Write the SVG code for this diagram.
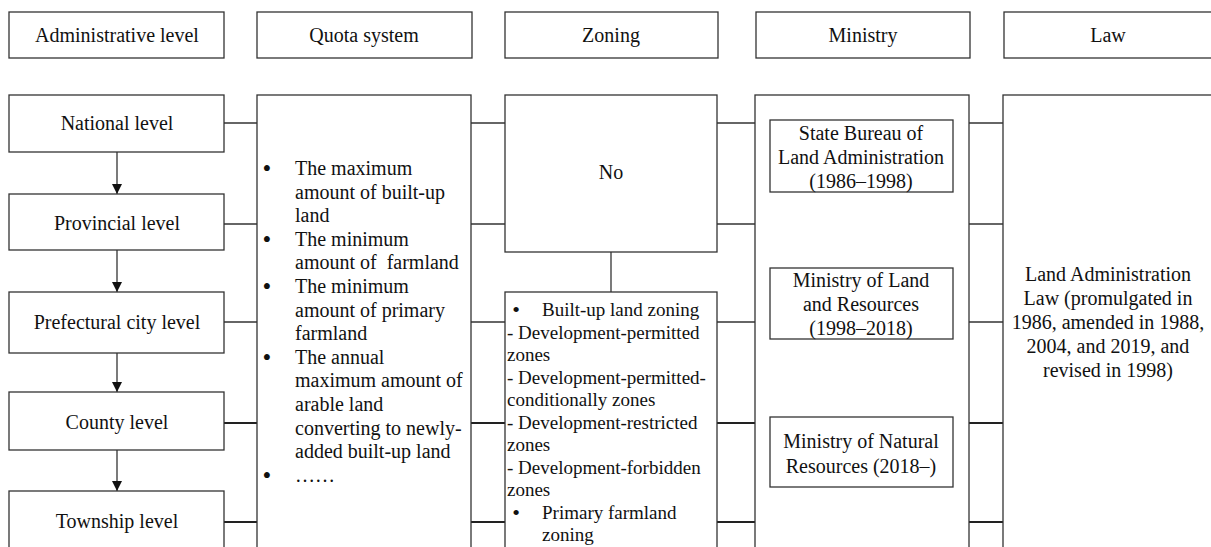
<svg xmlns="http://www.w3.org/2000/svg" width="1211" height="547" viewBox="0 0 1211 547">
<style>
.box{fill:#fff;stroke:#333;stroke-width:1.3}
.ln{stroke:#333;stroke-width:1.3;fill:none}
.lnb{stroke:#222;stroke-width:1.8;fill:none}
text{font-family:"Liberation Serif","Times New Roman",serif;fill:#111;font-size:20px}
.c{text-anchor:middle}
.z{font-size:19px}
.bul{font-size:25px;text-anchor:middle}
.bulz{font-size:22px;text-anchor:middle}
.pre{white-space:pre}
</style>
<defs>
<marker id="ah" viewBox="0 0 10 10" refX="10" refY="5" markerWidth="10" markerHeight="10" markerUnits="userSpaceOnUse" orient="auto">
<path d="M0,0 L10,5 L0,10 Z" fill="#111"/>
</marker>
</defs>
<g id="headers">
<g id="h-admin"><rect class="box" x="9" y="12" width="215" height="46"/><text class="c" x="117" y="42">Administrative level</text></g>
<g id="h-quota"><rect class="box" x="257" y="12" width="215" height="46"/><text class="c" x="364" y="42">Quota system</text></g>
<g id="h-zoning"><rect class="box" x="505" y="12" width="213" height="46"/><text class="c" x="611" y="42">Zoning</text></g>
<g id="h-ministry"><rect class="box" x="756" y="12" width="214" height="46"/><text class="c" x="863" y="42">Ministry</text></g>
<g id="h-law"><rect class="box" x="1004" y="12" width="215" height="46"/><text class="c" x="1108" y="42">Law</text></g>
</g>
<g id="connectors">
<line class="ln" x1="224" y1="123" x2="257" y2="123"/>
<line class="ln" x1="224" y1="224" x2="257" y2="224"/>
<line class="ln" x1="224" y1="322" x2="257" y2="322"/>
<line class="lnb" x1="224" y1="423" x2="257" y2="423"/>
<line class="lnb" x1="224" y1="522" x2="257" y2="522"/>
<line class="ln" x1="471" y1="123" x2="505" y2="123"/>
<line class="ln" x1="471" y1="224" x2="505" y2="224"/>
<line class="ln" x1="471" y1="322" x2="505" y2="322"/>
<line class="lnb" x1="471" y1="423" x2="505" y2="423"/>
<line class="lnb" x1="471" y1="522" x2="505" y2="522"/>
<line class="ln" x1="717" y1="123" x2="755" y2="123"/>
<line class="ln" x1="717" y1="224" x2="755" y2="224"/>
<line class="ln" x1="717" y1="322" x2="755" y2="322"/>
<line class="lnb" x1="717" y1="423" x2="755" y2="423"/>
<line class="lnb" x1="717" y1="522" x2="755" y2="522"/>
<line class="ln" x1="969" y1="123" x2="1003" y2="123"/>
<line class="ln" x1="969" y1="224" x2="1003" y2="224"/>
<line class="ln" x1="969" y1="322" x2="1003" y2="322"/>
<line class="lnb" x1="969" y1="423" x2="1003" y2="423"/>
<line class="lnb" x1="969" y1="522" x2="1003" y2="522"/>
<line class="ln" x1="117" y1="152" x2="117" y2="194" marker-end="url(#ah)"/>
<line class="ln" x1="117" y1="250" x2="117" y2="292" marker-end="url(#ah)"/>
<line class="ln" x1="117" y1="353" x2="117" y2="392" marker-end="url(#ah)"/>
<line class="ln" x1="117" y1="450" x2="117" y2="491" marker-end="url(#ah)"/>
<line class="ln" x1="611" y1="252" x2="611" y2="292"/>
<line class="ln" x1="861" y1="192" x2="861" y2="268" marker-end="url(#ah)"/>
<line class="ln" x1="861" y1="339" x2="861" y2="417" marker-end="url(#ah)"/>
<text x="946" y="239" text-anchor="end">Replace</text>
<text x="946" y="388" text-anchor="end">Replace</text>
</g>
<g id="national"><rect class="box" x="9" y="95" width="215" height="57"/><text class="c" x="117" y="130">National level</text></g>
<g id="provincial"><rect class="box" x="9" y="194" width="215" height="56"/><text class="c" x="117" y="230">Provincial level</text></g>
<g id="prefectural"><rect class="box" x="9" y="292" width="215" height="61"/><text class="c" x="117" y="329">Prefectural city level</text></g>
<g id="county"><rect class="box" x="9" y="392" width="215" height="58"/><text class="c" x="117" y="429">County level</text></g>
<g id="township"><rect class="box" x="9" y="491" width="215" height="70"/><text class="c" x="117" y="528">Township level</text></g>
<g id="quota">
<rect class="box" x="257" y="95" width="214" height="470"/>
<text class="bul" x="267" y="177">•</text><text class="bul" x="267" y="248">•</text><text class="bul" x="267" y="295">•</text><text class="bul" x="267" y="366">•</text><text class="bul" x="267" y="484">•</text>
<text x="295" y="175">The maximum</text>
<text x="295" y="198.6">amount of built-up</text>
<text x="295" y="222.2">land</text>
<text x="295" y="245.8">The minimum</text>
<text x="295" y="269.4" class="pre">amount of  farmland</text>
<text x="295" y="293">The minimum</text>
<text x="295" y="316.6">amount of primary</text>
<text x="295" y="340.2">farmland</text>
<text x="295" y="363.8">The annual</text>
<text x="295" y="387.4">maximum amount of</text>
<text x="295" y="411">arable land</text>
<text x="295" y="434.6">converting to newly-</text>
<text x="295" y="458.2">added built-up land</text>
<text x="295" y="481.8">……</text>
</g>
<g id="zoning-no"><rect class="box" x="505" y="95" width="212" height="157"/><text class="c" x="611" y="179">No</text></g>
<g id="zoning-yes">
<rect class="box" x="505" y="292" width="212" height="270"/>
<text class="bulz" x="516" y="317">•</text>
<text class="z" x="542" y="316">Built-up land zoning</text>
<text class="z" x="507" y="338.5">- Development-permitted</text>
<text class="z" x="507" y="361">zones</text>
<text class="z" x="507" y="383.5">- Development-permitted-</text>
<text class="z" x="507" y="406">conditionally zones</text>
<text class="z" x="507" y="428.5">- Development-restricted</text>
<text class="z" x="507" y="451">zones</text>
<text class="z" x="507" y="473.5">- Development-forbidden</text>
<text class="z" x="507" y="496">zones</text>
<text class="bulz" x="516" y="520">•</text>
<text class="z" x="542" y="518.5">Primary farmland</text>
<text class="z" x="542" y="541">zoning</text>
</g>
<g id="ministry">
<rect class="box" x="755" y="95" width="214" height="470"/>
</g>
<g id="state-bureau"><rect class="box" x="770" y="120" width="183" height="72"/>
<text class="c" x="861" y="140">State Bureau of</text><text class="c" x="861" y="164">Land Administration</text><text class="c" x="861" y="188">(1986–1998)</text></g>
<g id="mlr"><rect class="box" x="770" y="268" width="183" height="71"/>
<text class="c" x="861" y="287">Ministry of Land</text><text class="c" x="861" y="311">and Resources</text><text class="c" x="861" y="335">(1998–2018)</text></g>
<g id="mnr"><rect class="box" x="770" y="417" width="183" height="70"/>
<text class="c" x="861" y="448">Ministry of Natural</text><text class="c" x="861" y="473">Resources (2018–)</text></g>
<g id="law">
<rect class="box" x="1003" y="95" width="220" height="470"/>
<text class="c" x="1108" y="281">Land Administration</text>
<text class="c" x="1108" y="305">Law (promulgated in</text>
<text class="c" x="1108" y="329">1986, amended in 1988,</text>
<text class="c" x="1108" y="353">2004, and 2019, and</text>
<text class="c" x="1108" y="377">revised in 1998)</text>
</g>
</svg>
